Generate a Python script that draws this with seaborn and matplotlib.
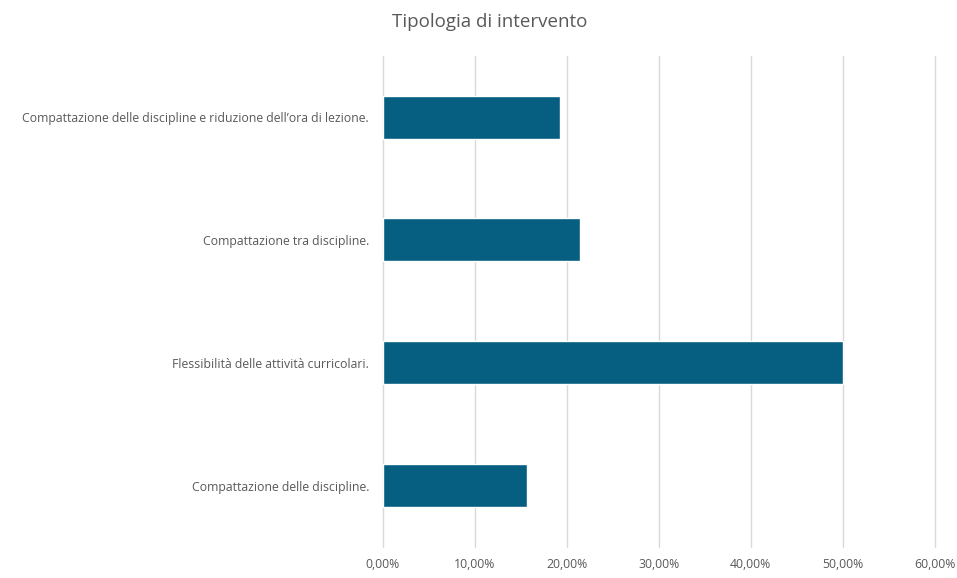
import matplotlib
matplotlib.use("Agg")
import matplotlib.pyplot as plt
import seaborn as sns
import pandas as pd
from matplotlib.ticker import FuncFormatter

categories = [
    "Compattazione delle discipline e riduzione dell\u2019ora di lezione.",
    "Compattazione tra discipline.",
    "Flessibilit\u00e0 delle attivit\u00e0 curricolari.",
    "Compattazione delle discipline.",
]
values = [0.1925, 0.2140, 0.5000, 0.1565]
xticks = [0, 0.1, 0.2, 0.3, 0.4, 0.5, 0.6]

df = pd.DataFrame({"cat": categories, "val": values})

sns.set_style("white")
plt.rcParams["font.family"] = ["Open Sans", "DejaVu Sans"]

fig = plt.figure(figsize=(9.57, 5.78), dpi=100)
ax = fig.add_axes([0.400, 0.0536, 0.5767, 0.8502])

sns.barplot(data=df, x="val", y="cat", orient="h", color="#065E80",
            width=0.35, ax=ax, saturation=1)

ax.set_xlim(0, 0.6)
ax.set_xticks(xticks)
ax.xaxis.set_major_formatter(FuncFormatter(lambda v, p: f"{v*100:.2f}%".replace(".", ",")))
ax.grid(axis="x", color="#D9D9D9", linewidth=1)
for gl in ax.get_xgridlines():
    gl.set_clip_on(False)
ax.set_axisbelow(True)
for s in ax.spines.values():
    s.set_visible(False)
ax.set_xlabel("")
ax.set_ylabel("")
ax.tick_params(axis="both", length=0, colors="#595959", labelsize=8.8)
ax.tick_params(axis="y", pad=10)
ax.tick_params(axis="x", pad=8)
for lab in ax.get_yticklabels() + ax.get_xticklabels():
    lab.set_color("#595959")

fig.text(0.512, 0.962, "Tipologia di intervento", ha="center", va="center",
         fontsize=13.5, color="#595959")

fig.savefig("out.png", dpi=100)
